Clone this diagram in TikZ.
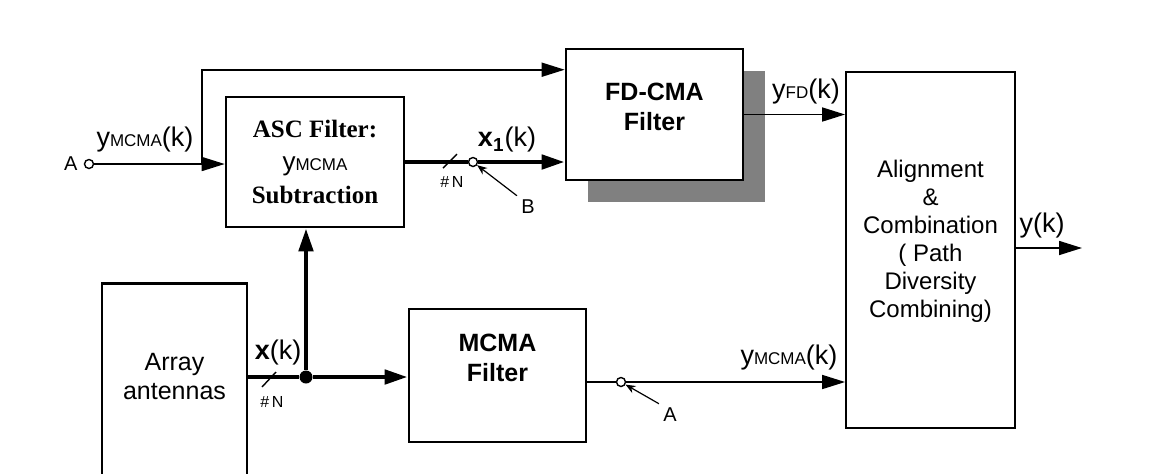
\documentclass[tikz,border=0pt]{standalone}
\usepackage{fontspec}
\setmainfont{Liberation Sans}
\newfontfamily\ascfont{Liberation Serif}
\usetikzlibrary{arrows.meta,positioning,calc,shadows}
\definecolor{shade}{HTML}{808080}

\newcommand{\ysub}[1]{y{\fontsize{8.5}{8.5}\selectfont #1}}
\newcommand{\ysig}[1]{\ysub{#1}(k)}

\begin{document}
\begin{tikzpicture}[x=0.5pt,y=-0.5pt,
  blk/.style={draw,line width=1.3pt,fill=white,align=center,inner sep=0pt},
  sig/.style={line width=0.85pt,-{Triangle[length=11.5pt,width=7pt]}},
  bus/.style={line width=2.3pt,-{Triangle[length=11.5pt,width=7pt]}},
  tap/.style={circle,draw,fill=white,line width=0.7pt,inner sep=0pt,minimum size=4.5pt},
  ptr/.style={line width=0.6pt,-{Stealth[length=5pt,width=4pt]}},
  lbl/.style={font=\fontsize{13.5}{15}\selectfont,inner sep=1pt},
  note/.style={font=\fontsize{10}{11}\selectfont,inner sep=1pt},
  busno/.style={font=\fontsize{8}{9}\selectfont,inner sep=1pt}]
\clip (0,0) rectangle (1153,473);
\fill[white] (0,0) rectangle (1153,473);
% blocks
\node[blk,minimum width=89pt,minimum height=65pt,
  font=\ascfont\bfseries\fontsize{12.5}{16.5}\selectfont] (asc) at (315,162)
  {ASC Filter:\\{\normalfont\fontsize{13}{16.5}\selectfont\ysub{MCMA}}\\Subtraction};
\node[blk,minimum width=88.5pt,minimum height=65.5pt,text depth=8pt,
  font=\bfseries\fontsize{12.5}{15}\selectfont,
  drop shadow={shadow xshift=11pt,shadow yshift=-11pt,fill=shade,opacity=1}]
  (fd) at (654.5,114.5) {FD-CMA\\Filter};
\node[blk,line width=0.9pt,minimum width=84.5pt,minimum height=178pt,text depth=11pt,
  font=\fontsize{12}{14}\selectfont] (comb) at (930.5,250)
  {Alignment\\\&\\Combination\\( Path\\Diversity\\Combining)};
\node[blk,minimum width=88.5pt,minimum height=66.5pt,text depth=18pt,
  font=\bfseries\fontsize{12.5}{15}\selectfont] (mcma) at (497.5,375.5) {MCMA\\Filter};
\node[blk,anchor=north,minimum width=72.5pt,minimum height=120pt] (array) at (174.5,282) {};
\node[align=center,font=\fontsize{12.5}{14.5}\selectfont] (arrtxt) at (174.5,377) {Array\\antennas};

% feedback input A
\node[tap] (ina) at (89,164) {};
\node[note,left=2pt of ina] (lblA1) {A};
\coordinate (br) at (202,164);
\draw[sig] (ina) -- (asc.west |- ina);
\draw[sig] (br) |- ($(fd.north west)+(0,22)$);
\node[lbl] (ylin) at (145,140) {\ysig{MCMA}};

% x1(k) bus
\node[tap] (ptb) at (473,162) {};
\coordinate (sb) at (450,161);
\draw[line width=2.3pt] (asc.east |- ptb) -- (ptb);
\draw[bus] (ptb) -- (fd.west |- ptb);
\draw[line width=0.7pt] ($(sb)+(-7,7)$) -- ($(sb)+(7,-7)$);
\node[busno] (nb) at (452,182) {\#\,N};
\node[lbl] (x1) at (507,140) {\textbf{x\textsubscript{1}}(k)};
\node[note] (lblB) at (528,207) {B};
\draw[ptr] ($(lblB.north west)+(-2,-2)$) -- (ptb);

% outputs
\draw[sig] (fd.east) -- (fd.east -| comb.west);
\node[lbl] (yfd) at (806,92) {\ysig{FD}};
\coordinate (yout) at (1082,248);
\draw[sig] (comb.east |- yout) -- (yout);
\node[lbl] (yk) at (1042,226) {y(k)};

% x(k) bus
\node[circle,fill,inner sep=0pt,minimum size=6.5pt] (jn) at (306,377) {};
\coordinate (sa) at (269,379);
\draw[line width=2.3pt] (array.east |- jn) -- (jn);
\draw[bus] (jn) -- (mcma.west |- jn);
\draw[bus] (jn) -- (asc.south -| jn);
\draw[line width=0.7pt] ($(sa)+(-7,8)$) -- ($(sa)+(7,-7)$);
\node[busno] (na) at (272,402) {\#\,N};
\node[lbl] (xk) at (278,353) {\textbf{x}(k)};

% MCMA output, point A
\node[tap] (pta) at (621,382) {};
\draw[line width=0.85pt] (mcma.east |- pta) -- (pta);
\draw[sig] (pta) -- (comb.west |- pta);
\node[lbl] (ymc) at (789,358) {\ysig{MCMA}};
\node[note] (lblA2) at (670,415) {A};
\draw[ptr] ($(lblA2.north west)+(-2,-2)$) -- (pta);
\end{tikzpicture}
\end{document}
